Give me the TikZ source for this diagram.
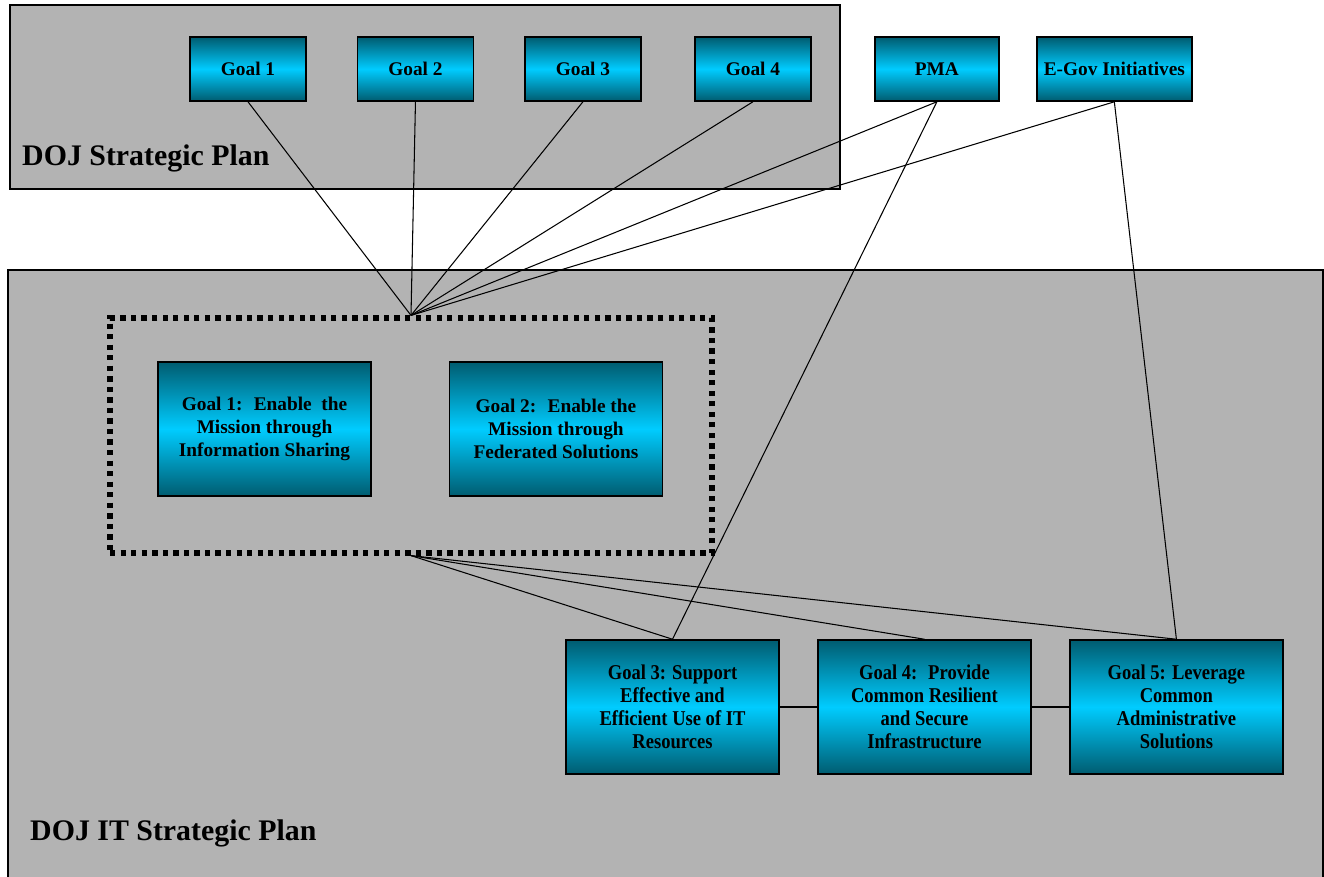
\documentclass[tikz,border=0pt]{standalone}
\usepackage{fontspec}
\setmainfont{Liberation Serif}
\newfontfamily\narrowfont{Liberation Serif}[FakeStretch=0.88]
\usetikzlibrary{shapes.geometric, arrows, positioning}

\definecolor{panelgray}{RGB}{179,179,179}
\definecolor{tealdark}{RGB}{0,92,112}
\definecolor{cyanmid}{RGB}{0,204,255}

\begin{document}
\begin{tikzpicture}[x=0.02cm, y=-0.02cm, node distance=3.35cm]
            \tikzstyle{panel} = [draw=black, line width=0.6pt, fill=panelgray]
            \tikzstyle{goal} = [rectangle, draw=black, line width=0.9pt, top color=tealdark, bottom color=tealdark, middle color=cyanmid, align=center, font=\bfseries\fontsize{11}{13}\selectfont]
            \tikzstyle{small} = [goal, minimum width=2.32cm, minimum height=1.28cm]
            \tikzstyle{big} = [goal, minimum width=4.26cm, minimum height=2.68cm]
            \tikzstyle{narrow} = [big, font=\narrowfont\bfseries\fontsize{12}{13.1}\selectfont]
            \tikzstyle{title} = [anchor=west, font=\bfseries\fontsize{17}{20}\selectfont]
            \tikzstyle{link} = [line width=0.6pt]

            \useasboundingbox (0,0) rectangle (1324,876);

            % the two plans
            \draw [panel] (10,5) rectangle (840,189);
            \draw [panel] (8,270) rectangle (1323,878);
            \node (strat) [title] at (16,158) {DOJ Strategic Plan};
            \node (itplan) [title] at (24,833) {DOJ IT Strategic Plan};

            % DOJ goals and outside drivers
            \node (g1) [small] at (248,69) {Goal 1};
            \node (g2) [small, right of=g1] {Goal 2};
            \node (g3) [small, right of=g2] {Goal 3};
            \node (g4) [small, right of=g3, xshift=0.05cm] {Goal 4};
            \node (pma) [small, right of=g4, xshift=0.33cm, minimum width=2.48cm] {PMA};
            \node (egov) [small, right of=pma, xshift=0.2cm, minimum width=3.1cm] {E-Gov Initiatives};

            % IT goals
            \node (cluster) [draw=black, line width=3pt, dash pattern=on 3pt off 3pt, minimum width=12.04cm, minimum height=4.7cm] at (411,435.5) {};
            \node (it1) [big] at (264.5,429) {Goal 1:~ Enable~ the\\Mission through\\Information Sharing};
            \node (it2) [big, right of=it1, node distance=5.83cm] {Goal 2:~ Enable the\\Mission through\\Federated Solutions};
            \node (it3) [narrow] at (672.5,707) {Goal 3: Support\\Effective and\\Efficient Use of IT\\Resources};
            \node (it4) [narrow, right of=it3, node distance=5.04cm] {Goal 4:~ Provide\\Common Resilient\\and Secure\\Infrastructure};
            \node (it5) [narrow, right of=it4, node distance=5.04cm] {Goal 5: Leverage\\Common\\Administrative\\Solutions};

            \draw [link] (g1.south) -- (cluster.north);
            \draw [link] (g2.south) -- (cluster.north);
            \draw [link] (g3.south) -- (cluster.north);
            \draw [link] (g4.south) -- (cluster.north);
            \draw [link] (pma.south) -- (cluster.north);
            \draw [link] (egov.south) -- (cluster.north);
            \draw [link] (pma.south) -- (it3.north);
            \draw [link] (egov.south) -- (it5.north);
            \draw [link] (cluster.south) -- (it3.north);
            \draw [link] (cluster.south) -- (it4.north);
            \draw [link] (cluster.south) -- (it5.north);
            \draw [link] (it3) -- (it4);
            \draw [link] (it4) -- (it5);
        \end{tikzpicture}
\end{document}
